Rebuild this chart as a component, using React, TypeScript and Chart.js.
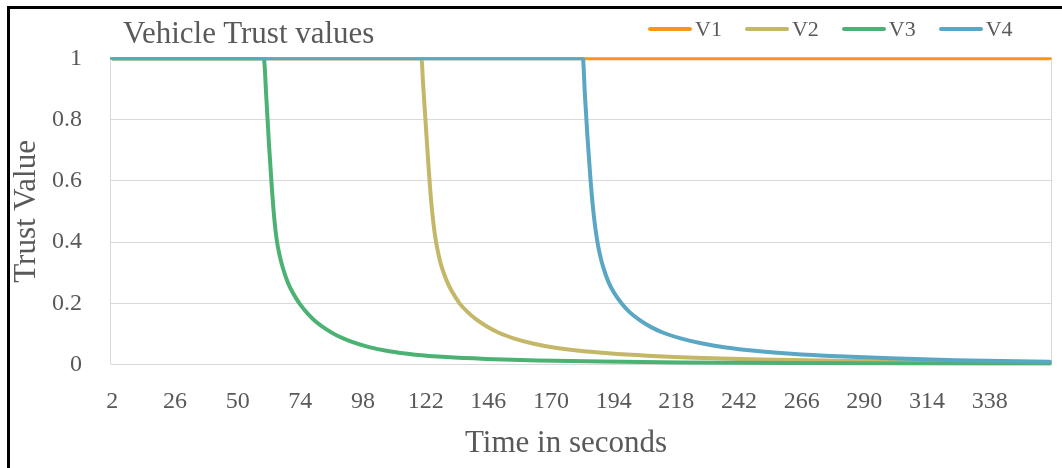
import React, { useEffect, useRef } from 'react';
import { Chart, registerables } from 'chart.js';

Chart.register(...registerables);

const chartTitle = 'Vehicle Trust values';
const xAxisTitle = 'Time in seconds';
const yAxisTitle = 'Trust Value';

const seriesNames = ['V1', 'V2', 'V3', 'V4'];
const seriesColors = ['#F5961E', '#C4B768', '#4CB273', '#5AA7C5'];

const v1Times = [2, 361];
const v1Values = [1, 1];

const v2Times = [2, 120.4, 121, 122, 123, 124, 125, 126, 127, 128, 130, 132, 135, 138, 141, 145, 150, 156, 163, 171, 180, 192, 207, 225, 250, 280, 320, 361];
const v2Values = [1, 1, 0.92, 0.79, 0.66, 0.545, 0.46, 0.4, 0.357, 0.323, 0.275, 0.24, 0.2, 0.172, 0.15, 0.127, 0.104, 0.085, 0.069, 0.056, 0.046, 0.037, 0.029, 0.0225, 0.0165, 0.0123, 0.0088, 0.0065];

const v3Times = [2, 60, 61, 62, 63, 64, 65, 66, 67, 68, 69, 70, 72, 74, 77, 80, 84, 88, 93, 100, 108, 118, 130, 145, 165, 190, 220, 260, 310, 361];
const v3Values = [1, 1, 0.87, 0.72, 0.59, 0.48, 0.405, 0.36, 0.325, 0.297, 0.273, 0.253, 0.222, 0.196, 0.165, 0.14, 0.115, 0.095, 0.077, 0.058, 0.0435, 0.0325, 0.0245, 0.0185, 0.0135, 0.0098, 0.0072, 0.0052, 0.0037, 0.0025];

const v4Times = [2, 182.2, 183, 184, 185, 186, 187, 188, 189, 190, 192, 194, 197, 200, 204, 208, 213, 220, 228, 237, 248, 262, 280, 300, 325, 361];
const v4Values = [1, 1, 0.88, 0.74, 0.62, 0.52, 0.445, 0.39, 0.35, 0.318, 0.27, 0.237, 0.2, 0.172, 0.145, 0.124, 0.104, 0.085, 0.069, 0.056, 0.045, 0.0355, 0.027, 0.0205, 0.0145, 0.009];

const xTickValues = [2, 26, 50, 74, 98, 122, 146, 170, 194, 218, 242, 266, 290, 314, 338];
const yTickValues = [0, 0.2, 0.4, 0.6, 0.8, 1];
const yTickLabels = ['0', '0.2', '0.4', '0.6', '0.8', '1'];

const FONT = '"Liberation Serif", "Times New Roman", serif';
const TEXT = '#595959';

const toPoints = (times: number[], values: number[]) =>
  times.map((t, i) => ({ x: t, y: values[i] }));

const plotBorder = {
  id: 'plotBorder',
  beforeDatasetsDraw(chart: any) {
    const { ctx, chartArea: a } = chart;
    ctx.save();
    ctx.strokeStyle = '#d9d9d9';
    ctx.lineWidth = 1;
    ctx.beginPath();
    ctx.moveTo(a.left - 0.5, a.top);
    ctx.lineTo(a.left - 0.5, a.bottom);
    ctx.moveTo(a.right + 0.5, a.top);
    ctx.lineTo(a.right + 0.5, a.bottom);
    ctx.stroke();
    ctx.restore();
  },
};

export default function App() {
  const canvasRef = useRef<HTMLCanvasElement | null>(null);

  useEffect(() => {
    if (!canvasRef.current) return;
    const seriesData = [
      toPoints(v1Times, v1Values),
      toPoints(v2Times, v2Values),
      toPoints(v3Times, v3Values),
      toPoints(v4Times, v4Values),
    ];
    const chart = new Chart(canvasRef.current, {
      type: 'line',
      data: {
        datasets: seriesNames.map((name, i) => ({
          label: name,
          data: seriesData[i],
          borderColor: seriesColors[i],
          backgroundColor: seriesColors[i],
          borderWidth: 4,
          pointRadius: 0,
          cubicInterpolationMode: 'monotone' as const,
          borderCapStyle: 'round' as const,
          borderJoinStyle: 'round' as const,
          clip: 1,
          order: seriesNames.length - i,
        })),
      },
      options: {
        responsive: false,
        animation: false,
        devicePixelRatio: 1,
        layout: { padding: { left: 0, right: 11, top: 58.3, bottom: 0 } },
        plugins: {
          legend: { display: false },
          title: { display: false },
          tooltip: { enabled: false },
        },
        scales: {
          x: {
            type: 'linear',
            min: 1.5,
            max: 361.5,
            afterBuildTicks: (s: any) => {
              s.ticks = xTickValues.map((v) => ({ value: v }));
            },
            afterFit: (s: any) => {
              s.height = 103.4;
            },
            grid: { display: false },
            border: { display: false },
            ticks: {
              autoSkip: false,
              maxRotation: 0,
              padding: 15,
              color: TEXT,
              font: { family: FONT, size: 24 },
              callback: (v: any) => String(v),
            },
          },
          y: {
            type: 'linear',
            min: 0,
            max: 1,
            afterBuildTicks: (s: any) => {
              s.ticks = yTickValues.map((v) => ({ value: v }));
            },
            afterFit: (s: any) => {
              s.width = 111;
            },
            grid: { color: '#d9d9d9', lineWidth: 1, drawTicks: false },
            border: { display: false },
            ticks: {
              padding: 29,
              color: TEXT,
              font: { family: FONT, size: 24 },
              callback: (_v: any, i: number) => yTickLabels[i],
            },
            title: {
              display: true,
              text: yAxisTitle,
              color: TEXT,
              font: { family: FONT, size: 31 },
              padding: { top: 8.5, bottom: 0 },
            },
          },
        },
      },
      plugins: [plotBorder],
    } as any);
    return () => chart.destroy();
  }, []);

  return (
    <div
      style={{
        position: 'absolute',
        left: 0,
        top: 0,
        width: 1062,
        height: 468,
        background: '#fff',
        overflow: 'hidden',
      }}
    >
      <canvas
        ref={canvasRef}
        width={1062}
        height={468}
        style={{ position: 'absolute', left: 0, top: 0 }}
      />
      <div
        style={{
          position: 'absolute',
          left: 7,
          top: 6,
          width: 1200,
          height: 600,
          borderLeft: '3px solid #000',
          borderTop: '3px solid #000',
          pointerEvents: 'none',
        }}
      />
      <div
        style={{
          position: 'absolute',
          left: 123,
          top: 17,
          font: `31px ${FONT}`,
          lineHeight: '31px',
          color: TEXT,
          whiteSpace: 'nowrap',
        }}
      >
        {chartTitle}
      </div>
      <div
        style={{
          position: 'absolute',
          left: 648,
          top: 17.6,
          display: 'flex',
          alignItems: 'center',
          gap: 23,
        }}
      >
        {seriesNames.map((name, i) => (
          <div key={name} style={{ display: 'flex', alignItems: 'center' }}>
            <span
              style={{
                display: 'inline-block',
                width: 44,
                height: 4,
                borderRadius: 2,
                background: seriesColors[i],
                marginRight: 3,
              }}
            />
            <span
              style={{
                font: `22px ${FONT}`,
                lineHeight: '22px',
                color: TEXT,
                whiteSpace: 'nowrap',
              }}
            >
              {name}
            </span>
          </div>
        ))}
      </div>
      <div
        style={{
          position: 'absolute',
          left: 566,
          top: 426,
          transform: 'translateX(-50%)',
          font: `31px ${FONT}`,
          lineHeight: '31px',
          color: TEXT,
          whiteSpace: 'nowrap',
        }}
      >
        {xAxisTitle}
      </div>
    </div>
  );
}
